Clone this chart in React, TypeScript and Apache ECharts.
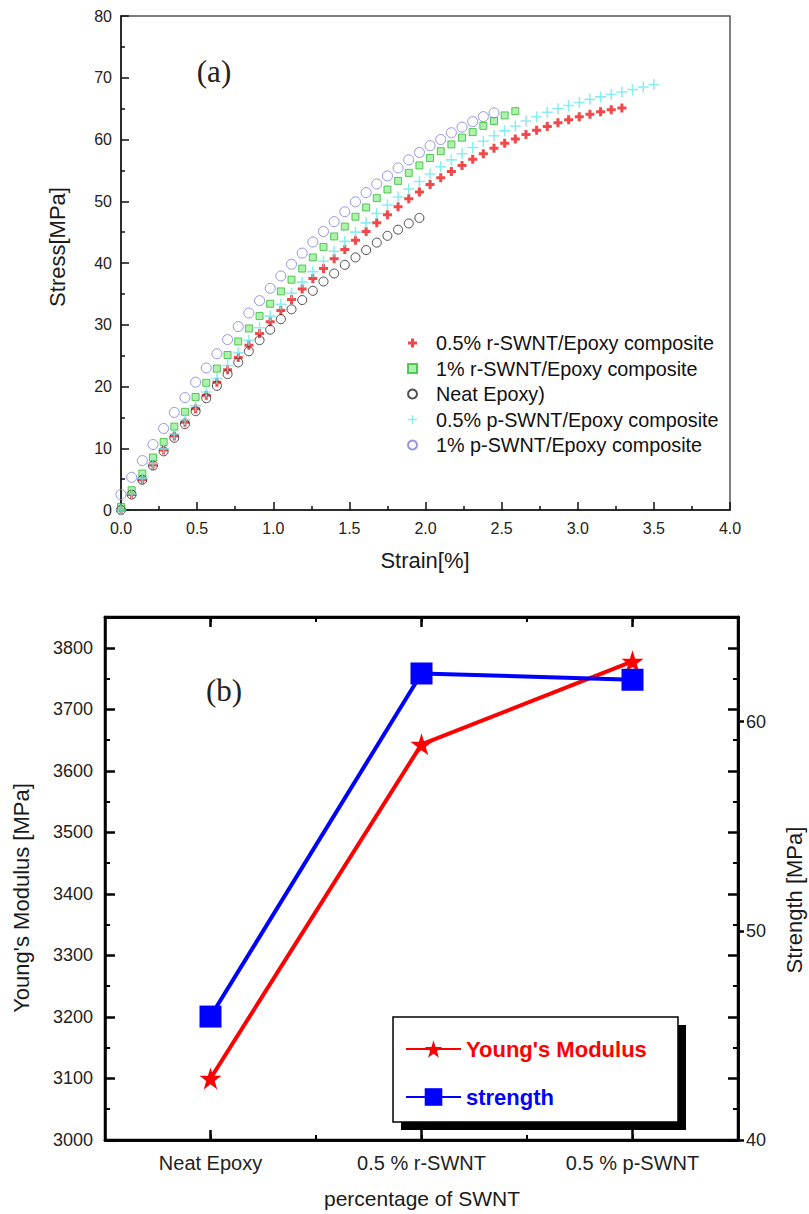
import React, { useEffect, useRef } from 'react';
import * as echarts from 'echarts';

// ---------- Panel (a): stress-strain curves ----------
const strain = [0.00, 0.07, 0.14, 0.21, 0.28, 0.35, 0.42, 0.49, 0.56, 0.63, 0.70, 0.77, 0.84, 0.91, 0.98, 1.05, 1.12, 1.19, 1.26, 1.33, 1.40, 1.47, 1.54, 1.61, 1.68, 1.75, 1.82, 1.89, 1.96, 2.03, 2.10, 2.17, 2.24, 2.31, 2.38, 2.45, 2.52, 2.59, 2.66, 2.73, 2.80, 2.87, 2.94, 3.01, 3.08, 3.15, 3.22, 3.29, 3.36, 3.43, 3.50];

const stressR05 = [0, 2.5, 4.9, 7.3, 9.7, 12.0, 14.2, 16.4, 18.6, 20.7, 22.7, 24.7, 26.7, 28.6, 30.5, 32.3, 34.1, 35.8, 37.5, 39.1, 40.7, 42.2, 43.7, 45.1, 46.5, 47.8, 49.1, 50.4, 51.5, 52.7, 53.8, 54.8, 55.8, 56.8, 57.7, 58.6, 59.4, 60.1, 60.8, 61.5, 62.1, 62.7, 63.2, 63.7, 64.1, 64.5, 64.8, 65.1];
const stressR1 = [0.5, 3.2, 5.9, 8.5, 11.0, 13.5, 15.9, 18.3, 20.6, 22.9, 25.1, 27.3, 29.4, 31.4, 33.4, 35.4, 37.3, 39.1, 40.9, 42.6, 44.3, 45.9, 47.5, 49.0, 50.5, 51.9, 53.3, 54.6, 55.8, 57.0, 58.1, 59.2, 60.3, 61.2, 62.2, 63.0, 63.9, 64.6];
const stressNeat = [0, 2.5, 4.9, 7.2, 9.5, 11.7, 13.9, 16.0, 18.1, 20.1, 22.0, 23.9, 25.7, 27.5, 29.2, 30.9, 32.5, 34.0, 35.5, 37.0, 38.3, 39.7, 40.9, 42.1, 43.3, 44.4, 45.4, 46.4, 47.3];
const stressP05 = [0, 2.6, 5.1, 7.5, 9.9, 12.3, 14.6, 16.9, 19.1, 21.3, 23.4, 25.5, 27.5, 29.5, 31.4, 33.3, 35.1, 36.9, 38.6, 40.3, 41.9, 43.5, 45.0, 46.5, 48.0, 49.4, 50.7, 52.0, 53.2, 54.4, 55.6, 56.7, 57.7, 58.7, 59.7, 60.6, 61.4, 62.2, 63.0, 63.7, 64.4, 65.0, 65.5, 66.0, 66.5, 66.9, 67.3, 67.7, 68.1, 68.5, 68.9];
const stressP1 = [2.5, 5.3, 8.0, 10.6, 13.2, 15.8, 18.2, 20.7, 23.0, 25.3, 27.6, 29.7, 31.9, 33.9, 35.9, 37.9, 39.8, 41.6, 43.4, 45.1, 46.7, 48.3, 49.9, 51.4, 52.8, 54.1, 55.4, 56.7, 57.9, 59.0, 60.0, 61.1, 62.0, 62.9, 63.7, 64.3];

const curveNames = [
  '0.5% r-SWNT/Epoxy composite',
  '1% r-SWNT/Epoxy composite',
  'Neat Epoxy)',
  '0.5% p-SWNT/Epoxy composite',
  '1% p-SWNT/Epoxy composite',
];

// ---------- Panel (b): modulus and strength ----------
const categories = ['Neat Epoxy', '0.5 % r-SWNT', '0.5 % p-SWNT'];
const youngsModulus = [3100, 3643, 3778];
const strengthValues = [45.9, 62.3, 62.0];

const SANS = '"Liberation Sans", Arial, sans-serif';
const SERIF = '"Liberation Serif", "Times New Roman", serif';

const PLUS_THICK = 'path://M3,0H6V3H9V6H6V9H3V6H0V3H3Z';
const PLUS_THIN = 'path://M4.3,0H5.7V4.3H10V5.7H5.7V10H4.3V5.7H0V4.3H4.3Z';
const STAR = 'path://M50,2L61.8,38.2H99.9L69.1,60.6L80.9,96.8L50,74.4L19.1,96.8L30.9,60.6L0.1,38.2H38.2Z';

const pair = (ys: number[]) => ys.map((y, i) => [strain[i], y]);

export default function App() {
  const ref = useRef<HTMLDivElement>(null);

  useEffect(() => {
    if (!ref.current) return;
    const chart = echarts.init(ref.current, null, { renderer: 'svg' });

    const textEl = (text: string, x: number, y: number, size: number, rotate = 0, family = SANS, color = '#1a1a1a') => ({
      type: 'text',
      x,
      y,
      rotation: rotate,
      z: 10,
      style: {
        text,
        font: `${size}px ${family}`,
        fill: color,
        align: 'center',
        verticalAlign: 'middle',
        textAlign: 'center',
        textVerticalAlign: 'middle',
      },
    });

    const plain = (v: number) => String(v);

    const option: any = {
      animation: false,
      backgroundColor: '#ffffff',
      grid: [
        { left: 121, top: 16, width: 609, height: 494, show: true, borderColor: '#555', borderWidth: 1.5, backgroundColor: 'transparent' },
        { left: 105, top: 617, width: 633, height: 523, show: true, borderColor: '#000', borderWidth: 2.5, backgroundColor: 'transparent' },
      ],
      xAxis: [
        {
          gridIndex: 0, type: 'value', min: 0, max: 4, interval: 0.5, position: 'bottom',
          axisLine: { show: true, lineStyle: { color: '#111', width: 1.5 } },
          axisTick: { show: true, inside: true, length: 8, lineStyle: { color: '#111', width: 1.5 } },
          minorTick: { show: true, splitNumber: 2, length: 4, lineStyle: { color: '#111', width: 1.5 } },
          splitLine: { show: false },
          axisLabel: { fontSize: 16, fontFamily: SANS, color: '#222', margin: 10, formatter: (v: number) => v.toFixed(1) },
        },
        {
          gridIndex: 1, type: 'value', min: 0.5, max: 3.5, interval: 0.5, position: 'bottom',
          axisLine: { show: true, lineStyle: { color: '#000', width: 2.5 } },
          axisTick: { show: true, inside: true, length: 5, lineStyle: { color: '#000', width: 2 } },
          splitLine: { show: false },
          axisLabel: { show: false },
        },
        {
          gridIndex: 1, type: 'category', data: categories, boundaryGap: true, position: 'bottom',
          axisLine: { show: true, lineStyle: { color: '#000', width: 2.5 } },
          axisTick: { show: true, inside: true, alignWithLabel: true, length: 10, lineStyle: { color: '#000', width: 2.5 } },
          splitLine: { show: false },
          axisLabel: { fontSize: 20, fontFamily: SANS, color: '#222', margin: 13 },
        },
        {
          gridIndex: 1, type: 'value', min: 0.5, max: 3.5, interval: 0.5, position: 'top',
          axisLine: { show: true, lineStyle: { color: '#000', width: 2.5 } },
          axisTick: { show: true, inside: true, length: 5, lineStyle: { color: '#000', width: 2 } },
          splitLine: { show: false },
          axisLabel: { show: false },
        },
        {
          gridIndex: 1, type: 'category', data: categories, boundaryGap: true, position: 'top',
          axisLine: { show: true, lineStyle: { color: '#000', width: 2.5 } },
          axisTick: { show: true, inside: true, alignWithLabel: true, length: 10, lineStyle: { color: '#000', width: 2.5 } },
          splitLine: { show: false },
          axisLabel: { show: false },
        },
      ],
      yAxis: [
        {
          gridIndex: 0, type: 'value', min: 0, max: 80, interval: 10, position: 'left',
          axisLine: { show: true, lineStyle: { color: '#111', width: 1.5 } },
          axisTick: { show: true, inside: true, length: 8, lineStyle: { color: '#111', width: 1.5 } },
          minorTick: { show: true, splitNumber: 2, length: 4, lineStyle: { color: '#111', width: 1.5 } },
          splitLine: { show: false },
          axisLabel: { fontSize: 16, fontFamily: SANS, color: '#222', margin: 9, formatter: plain },
        },
        {
          gridIndex: 1, type: 'value', min: 3000, max: 3850, interval: 100, position: 'left',
          axisLine: { show: true, lineStyle: { color: '#000', width: 2.5 } },
          axisTick: { show: true, inside: true, length: 10, lineStyle: { color: '#000', width: 2.5 } },
          minorTick: { show: true, splitNumber: 2, length: 5, lineStyle: { color: '#000', width: 2 } },
          splitLine: { show: false },
          axisLabel: { fontSize: 18, fontFamily: SANS, color: '#222', margin: 12, showMaxLabel: false, formatter: plain },
        },
        {
          gridIndex: 1, type: 'value', min: 3000, max: 3850, interval: 100, position: 'right',
          axisLine: { show: true, lineStyle: { color: '#000', width: 2.5 } },
          axisTick: { show: true, inside: true, length: 10, lineStyle: { color: '#000', width: 2.5 } },
          minorTick: { show: true, splitNumber: 2, length: 5, lineStyle: { color: '#000', width: 2 } },
          splitLine: { show: false },
          axisLabel: { show: false },
        },
        {
          gridIndex: 1, type: 'value', min: 40, max: 65, interval: 10, position: 'right',
          axisLine: { show: true, lineStyle: { color: '#000', width: 2.5 } },
          axisTick: { show: true, inside: false, length: 6, lineStyle: { color: '#000', width: 2.5 } },
          splitLine: { show: false },
          axisLabel: { fontSize: 18, fontFamily: SANS, color: '#222', margin: 8, showMaxLabel: false, formatter: plain },
        },
      ],
      legend: [
        {
          orient: 'vertical', left: 407, top: 333, padding: 0,
          itemWidth: 9, itemHeight: 9, itemGap: 5.5, selectedMode: false,
          textStyle: { fontSize: 19.8, fontFamily: SANS, color: '#111', lineHeight: 20, padding: [0, 0, 0, 14] },
          data: curveNames,
        },
        {
          orient: 'vertical', left: 405, top: 1036, padding: 0,
          itemWidth: 55, itemHeight: 22, itemGap: 22, selectedMode: false,
          textStyle: { fontSize: 22, fontWeight: 'bold', fontFamily: SANS, lineHeight: 26 },
          data: [
            { name: "Young's Modulus", textStyle: { color: '#ff0000' } },
            { name: 'strength', textStyle: { color: '#0000ff' } },
          ],
        },
      ],
      graphic: {
        elements: [
          { type: 'rect', z: 2, shape: { x: 401, y: 1025, width: 285, height: 105 }, style: { fill: '#000' } },
          { type: 'rect', z: 3, shape: { x: 393, y: 1017, width: 285, height: 105 }, style: { fill: '#fff', stroke: '#000', lineWidth: 1.5 } },
          textEl('(a)', 214, 71, 31, 0, SERIF, '#222'),
          textEl('Stress[MPa]', 57, 247, 22, Math.PI / 2),
          textEl('Strain[%]', 425, 560, 22),
          textEl('(b)', 224, 690, 31, 0, SERIF, '#222'),
          textEl("Young's Modulus [MPa]", 21, 898, 22, Math.PI / 2),
          textEl('Strength [MPa]', 794, 900, 22, Math.PI / 2),
          textEl('percentage of SWNT', 422, 1198, 21),
        ],
      },
      series: [
        {
          name: curveNames[0], type: 'scatter', xAxisIndex: 0, yAxisIndex: 0,
          data: pair(stressR05), symbol: PLUS_THICK, symbolSize: 9,
          itemStyle: { color: '#ee1c1c' },
        },
        {
          name: curveNames[1], type: 'scatter', xAxisIndex: 0, yAxisIndex: 0,
          data: pair(stressR1), symbol: 'rect', symbolSize: 7,
          itemStyle: { color: 'rgba(120,230,120,0.75)', borderColor: '#33bb33', borderWidth: 1 },
        },
        {
          name: curveNames[2], type: 'scatter', xAxisIndex: 0, yAxisIndex: 0,
          data: pair(stressNeat), symbol: 'circle', symbolSize: 9,
          itemStyle: { color: 'rgba(255,255,255,0)', borderColor: '#222', borderWidth: 1 },
        },
        {
          name: curveNames[3], type: 'scatter', xAxisIndex: 0, yAxisIndex: 0,
          data: pair(stressP05), symbol: PLUS_THIN, symbolSize: 11,
          itemStyle: { color: '#6ee8ee' },
        },
        {
          name: curveNames[4], type: 'scatter', xAxisIndex: 0, yAxisIndex: 0,
          data: pair(stressP1), symbol: 'circle', symbolSize: 10,
          itemStyle: { color: 'rgba(255,255,255,0)', borderColor: '#7b7bdc', borderWidth: 1 },
        },
        {
          name: "Young's Modulus", type: 'line', xAxisIndex: 2, yAxisIndex: 1,
          data: youngsModulus, symbol: STAR, symbolSize: 22,
          lineStyle: { color: '#ff0000', width: 4 },
          itemStyle: { color: '#ff0000' },
        },
        {
          name: 'strength', type: 'line', xAxisIndex: 2, yAxisIndex: 3,
          data: strengthValues, symbol: 'rect', symbolSize: 22,
          lineStyle: { color: '#0000ff', width: 4 },
          itemStyle: { color: '#0000ff' },
        },
      ],
    };

    chart.setOption(option);
    return () => chart.dispose();
  }, []);

  return (
    <div
      ref={ref}
      style={{ position: 'absolute', left: 0, top: 0, width: 809, height: 1214, background: '#fff' }}
    />
  );
}
